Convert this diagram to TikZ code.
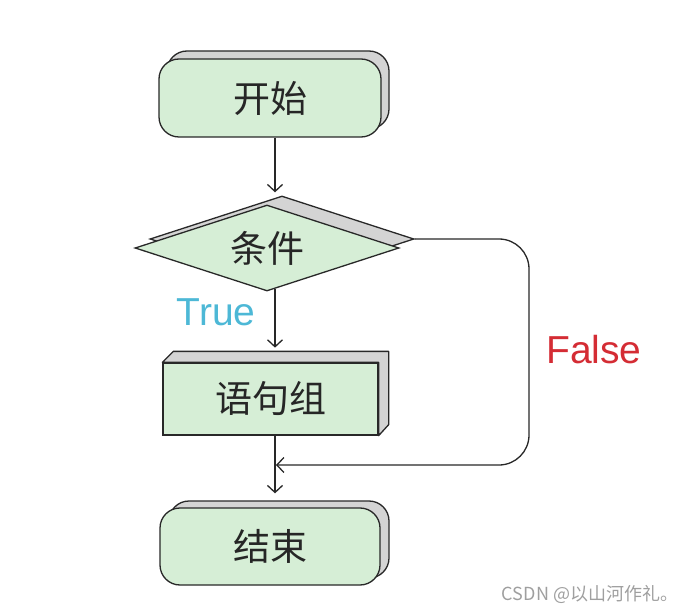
\documentclass[tikz,border=0pt]{standalone}
\usepackage{fontspec}
\setmainfont{Liberation Sans}
\newfontfamily\cjk{Noto Sans CJK SC}
\usepackage{xcolor}
\usetikzlibrary{positioning, arrows.meta, calc, shapes.geometric, shadows}

\definecolor{boxgreen}{RGB}{214,238,214}
\definecolor{shadegray}{RGB}{212,212,212}
\definecolor{linegray}{RGB}{40,40,40}
\definecolor{truecyan}{RGB}{77,184,214}
\definecolor{falsered}{RGB}{212,44,52}

\begin{document}
\begin{tikzpicture}[
      x=1pt, y=-1pt,
      term/.style={
        draw=linegray,
        fill=boxgreen,
        line width=1.3pt,
        rounded corners=20pt,
        minimum width=222pt,
        minimum height=78pt,
        font=\cjk\fontsize{37}{40}\selectfont,
        text=black!85
      },
      decision/.style={
        diamond,
        draw=linegray,
        fill=boxgreen,
        line width=1.3pt,
        aspect=3,
        inner sep=0pt,
        minimum width=264pt,
        minimum height=86pt,
        font=\cjk\fontsize{37}{40}\selectfont,
        text=black!85,
        copy shadow={shadow xshift=15pt, shadow yshift=9pt, fill=shadegray}
      },
      process/.style={
        draw=linegray,
        fill=boxgreen,
        line width=1.3pt,
        minimum width=215pt,
        minimum height=72pt,
        font=\cjk\fontsize{37}{40}\selectfont,
        text=black!85
      },
      side/.style={
        draw=linegray,
        fill=shadegray,
        line width=1.3pt,
        line join=round
      },
      lbl/.style={
        font=\fontsize{39}{42}\selectfont
      },
      arrow/.style={
        -{Straight Barb[length=7pt,width=15pt]},
        draw=linegray,
        line width=1.3pt
      }
    ]

    \useasboundingbox (0,0) rectangle (696,612);

    \node[term, copy shadow={shadow xshift=8pt, shadow yshift=8pt, fill=shadegray}] (start) at (270,98) {开始};

    \node[decision] (cond) at (267,248) {条件};

    \node[process] (stmt) at (270.5,399) {语句组};
    \draw[side] (stmt.north west) -- ++(11pt,11pt)
      -- ($(stmt.north east)+(10pt,11pt)$)
      -- ($(stmt.south east)+(10pt,11pt)$)
      -- (stmt.south east) -- (stmt.north east) -- cycle;

    \node[term, minimum width=220pt, minimum height=77pt,
      copy shadow={shadow xshift=9pt, shadow yshift=7pt, fill=shadegray}] (end) at (270,546.5) {结束};

    \coordinate (merge) at (276,465);

    % main flow
    \draw[arrow] ($(start.south)+(5pt,0)$) -- ($(start.south |- cond.north)+(5pt,12pt)$);
    \draw[arrow] ($(cond.south)+(8pt,3pt)$) -- ($(cond.south -| stmt.north)+(4.5pt,-56pt)$);
    \draw[arrow] ($(stmt.south)+(4.5pt,0)$) -- ($(stmt.south |- end.north)+(4.5pt,14pt)$);

    % false branch
    \draw[arrow, rounded corners=30pt]
      ($(cond.east)+(15pt,9pt)$) -| (529,465) -- (merge);

    \node[lbl, text=truecyan] (truelbl) at (216,312) {True};
    \node[lbl, text=falsered] (falselbl) at (594,350) {False};

    \node[font=\cjk\fontsize{18}{20}\selectfont, text=gray!75] (mark) at (590,594) {CSDN @以山河作礼。};

\end{tikzpicture}
\end{document}
